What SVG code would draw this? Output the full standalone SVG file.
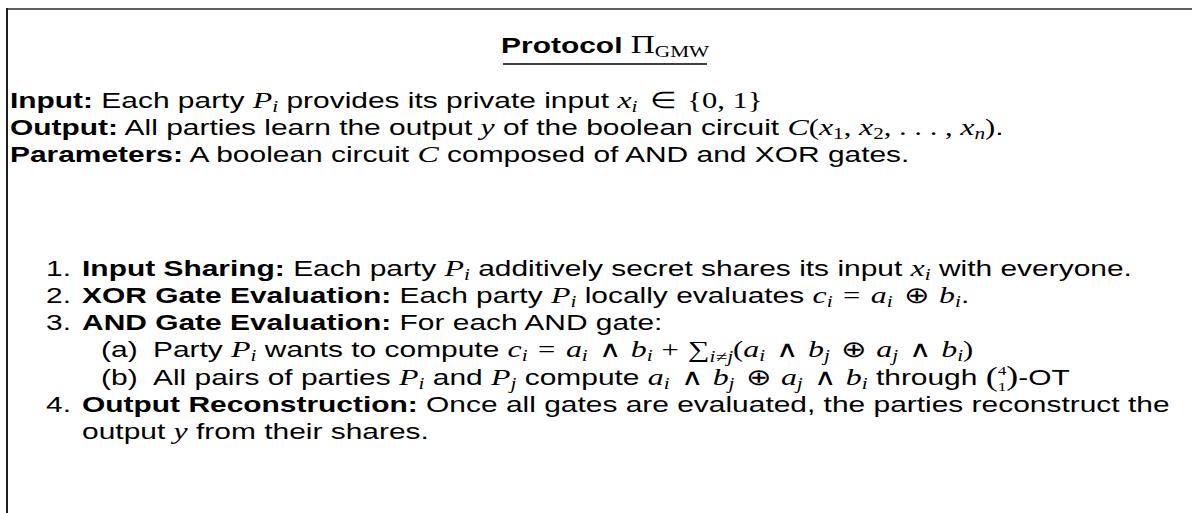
<svg xmlns="http://www.w3.org/2000/svg" width="1192" height="513" viewBox="0 0 1192 513">
  <style>
    .t { font-family: "Liberation Sans", Arial, Helvetica, sans-serif; font-size: 22.5px; fill: #000; }
    .b { font-weight: bold; }
    .m { font-family: "Liberation Serif", "Times New Roman", serif; font-style: italic; font-size: 24px; }
    .u { font-family: "Liberation Serif", "Times New Roman", serif; font-style: normal; font-size: 23px; }
    .o { font-family: "DejaVu Sans", sans-serif; font-style: normal; font-weight: 200; font-size: 23px; }
    .s { font-size: 16px; }
    .big { font-size: 27px; }
    .tiny { font-size: 13px; }
    .pi { font-size: 25px; }
  </style>
  <rect width="1192" height="513" fill="#fff"/>

  <!-- framing box: only its top and left edges fall inside the page -->
  <g id="frame">
    <line x1="6" y1="9" x2="1192" y2="9" stroke="#5f5f5f" stroke-width="2"/>
    <line x1="7" y1="8" x2="7" y2="513" stroke="#1e1e1e" stroke-width="2"/>
  </g>

  <g id="title-rule">
    <line x1="503" y1="64" x2="707" y2="64" stroke="#000" stroke-width="1.3"/>
  </g>

  <!-- all text is set in a horizontally widened frame (x scaled by 1.33) -->
  <g id="text" transform="scale(1.33,1)">
    <g id="title">
      <text class="t" x="455" y="53" text-anchor="middle"><tspan class="b">Protocol</tspan> <tspan class="u pi">Π</tspan><tspan class="u s" dy="4">GMW</tspan></text>
    </g>

    <g id="header">
      <text class="t" x="7.5" y="108"><tspan class="b">Input:</tspan> Each party <tspan class="m">P</tspan><tspan class="m s" dy="4">i</tspan><tspan dy="-4"> provides its private input </tspan><tspan class="m">x</tspan><tspan class="m s" dy="4">i</tspan><tspan class="o" dy="-4" dx="2"> ∈</tspan><tspan class="u" dx="2"> {0, 1}</tspan></text>
      <text class="t" x="7.5" y="135"><tspan class="b">Output:</tspan> All parties learn the output <tspan class="m">y</tspan> of the boolean circuit <tspan class="m">C</tspan><tspan class="u">(</tspan><tspan class="m">x</tspan><tspan class="u s" dy="4">1</tspan><tspan class="u" dy="-4">, </tspan><tspan class="m">x</tspan><tspan class="u s" dy="4">2</tspan><tspan class="u" dy="-4">, . . . , </tspan><tspan class="m">x</tspan><tspan class="m s" dy="4">n</tspan><tspan class="u" dy="-4">)</tspan>.</text>
      <text class="t" x="7.5" y="162"><tspan class="b">Parameters:</tspan> A boolean circuit <tspan class="m">C</tspan> composed of AND and XOR gates.</text>
    </g>

    <g id="steps">
      <g id="step-1">
        <text class="t" x="34.6" y="276">1.</text>
        <text class="t" x="61.7" y="276"><tspan class="b">Input Sharing:</tspan> Each party <tspan class="m">P</tspan><tspan class="m s" dy="4">i</tspan><tspan dy="-4"> additively secret shares its input </tspan><tspan class="m">x</tspan><tspan class="m s" dy="4">i</tspan><tspan dy="-4"> with everyone.</tspan></text>
      </g>

      <g id="step-2">
        <text class="t" x="34.6" y="303">2.</text>
        <text class="t" x="61.7" y="303"><tspan class="b">XOR Gate Evaluation:</tspan> Each party <tspan class="m">P</tspan><tspan class="m s" dy="4">i</tspan><tspan dy="-4"> locally evaluates </tspan><tspan class="m">c</tspan><tspan class="m s" dy="4">i</tspan><tspan class="u" dy="-4" dx="2"> =</tspan><tspan class="m" dx="2"> a</tspan><tspan class="m s" dy="4">i</tspan><tspan class="o" dy="-4" dx="1"> ⊕</tspan><tspan class="m" dx="1"> b</tspan><tspan class="m s" dy="4">i</tspan><tspan dy="-4">.</tspan></text>
      </g>

      <g id="step-3">
        <text class="t" x="34.6" y="330">3.</text>
        <text class="t" x="61.7" y="330"><tspan class="b">AND Gate Evaluation:</tspan> For each AND gate:</text>

        <text class="t" x="76" y="357">(a)</text>
        <text class="t" x="115" y="357">Party <tspan class="m">P</tspan><tspan class="m s" dy="4">i</tspan><tspan dy="-4"> wants to compute </tspan><tspan class="m">c</tspan><tspan class="m s" dy="4">i</tspan><tspan class="u" dy="-4" dx="2"> =</tspan><tspan class="m" dx="2"> a</tspan><tspan class="m s" dy="4">i</tspan><tspan class="o" dy="-4" dx="1"> ∧</tspan><tspan class="m" dx="1"> b</tspan><tspan class="m s" dy="4">i</tspan><tspan class="u" dy="-4" dx="1"> +</tspan><tspan class="u" dx="1"> ∑</tspan><tspan class="m s" dy="5">i≠j</tspan><tspan class="u" dy="-5">(</tspan><tspan class="m">a</tspan><tspan class="m s" dy="4">i</tspan><tspan class="o" dy="-4" dx="1"> ∧</tspan><tspan class="m" dx="1"> b</tspan><tspan class="m s" dy="4">j</tspan><tspan class="o" dy="-4" dx="1"> ⊕</tspan><tspan class="m" dx="1"> a</tspan><tspan class="m s" dy="4">j</tspan><tspan class="o" dy="-4" dx="1"> ∧</tspan><tspan class="m" dx="1"> b</tspan><tspan class="m s" dy="4">i</tspan><tspan class="u" dy="-4">)</tspan></text>

        <text class="t" x="76" y="385">(b)</text>
        <text class="t" x="115" y="385">All pairs of parties <tspan class="m">P</tspan><tspan class="m s" dy="4">i</tspan><tspan dy="-4"> and </tspan><tspan class="m">P</tspan><tspan class="m s" dy="4">j</tspan><tspan dy="-4"> compute </tspan><tspan class="m">a</tspan><tspan class="m s" dy="4">i</tspan><tspan class="o" dy="-4" dx="1"> ∧</tspan><tspan class="m" dx="1"> b</tspan><tspan class="m s" dy="4">j</tspan><tspan class="o" dy="-4" dx="1"> ⊕</tspan><tspan class="m" dx="1"> a</tspan><tspan class="m s" dy="4">j</tspan><tspan class="o" dy="-4" dx="1"> ∧</tspan><tspan class="m" dx="1"> b</tspan><tspan class="m s" dy="4">i</tspan><tspan dy="-4"> through </tspan><tspan class="u big" dy="1">(</tspan><tspan class="u tiny" dy="-11">4</tspan><tspan class="u tiny" dx="-6.5" dy="16">1</tspan><tspan class="u big" dy="-6">)</tspan><tspan>-OT</tspan></text>
      </g>

      <g id="step-4">
        <text class="t" x="34.6" y="412">4.</text>
        <text class="t" x="61.7" y="412"><tspan class="b">Output Reconstruction:</tspan> Once all gates are evaluated, the parties reconstruct the</text>
        <text class="t" x="61.7" y="439">output <tspan class="m">y</tspan> from their shares.</text>
      </g>
    </g>
  </g>
</svg>
